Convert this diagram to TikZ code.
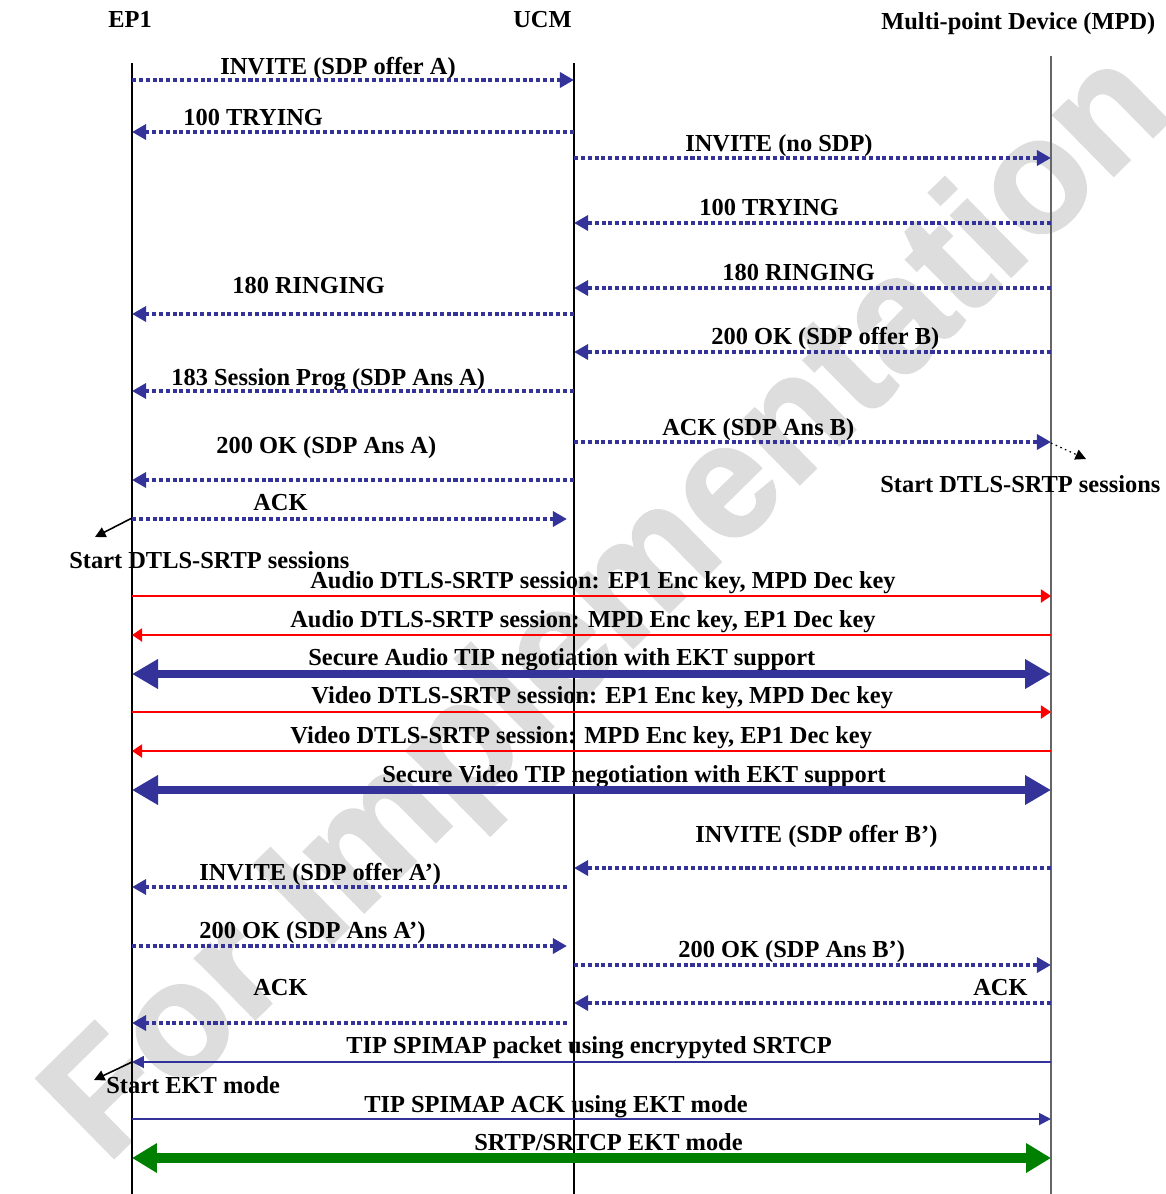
\documentclass[tikz,border=0pt]{standalone}
\usepackage{fontspec}
\setmainfont{Liberation Serif}
\newfontfamily\wmfont{Liberation Sans}[BoldFeatures={FakeBold=1.5}]
\usepackage{tikz}
\usetikzlibrary{arrows.meta,positioning,calc}
\definecolor{sipblue}{RGB}{51,51,153}
\definecolor{ektgreen}{RGB}{0,128,0}
\definecolor{wmgray}{RGB}{221,221,221}
\tikzstyle{life}=[draw=black, line width=0.6pt]
\tikzstyle{sipmsg}=[draw=sipblue, line width=2.4pt, dash pattern=on 2.3pt off 1.6pt, -{Triangle[length=8pt,width=8.5pt]}]
\tikzstyle{keymsg}=[draw=red, line width=1.1pt, -{Triangle[length=5.7pt,width=7.4pt]}]
\tikzstyle{spimsg}=[draw=sipblue, line width=1.1pt, -{Triangle[length=6.8pt,width=6.8pt]}]
\tikzstyle{tipmsg}=[draw=sipblue, line width=5.1pt, {Triangle[length=14.8pt,width=16pt]}-{Triangle[length=14.8pt,width=16pt]}]
\tikzstyle{ektmsg}=[draw=ektgreen, line width=5.7pt, {Triangle[length=14.2pt,width=16pt]}-{Triangle[length=14.2pt,width=16pt]}]
\tikzstyle{note}=[draw=black, line width=0.9pt, -{Triangle[length=6pt,width=6pt]}]

\begin{document}
\begin{tikzpicture}[
        x=0.02cm, y=-0.02cm,
        every node/.style={inner sep=0pt, anchor=base west, font=\fontsize{13.9}{16}\selectfont\bfseries},
        wm/.style={anchor=center, rotate=44.5, text=wmgray, font=\wmfont\fontsize{92}{92}\selectfont\bfseries}
    ]
    \useasboundingbox (0,0) rectangle (1166,1194);

    % Watermark
    \node[wm] (wmark) at (612,610) {For Implementation};

    % Lifelines
    \coordinate (ep1top) at (132,63);
    \coordinate (ep1bot) at (132,1194);
    \coordinate (ucmtop) at (574,63);
    \coordinate (ucmbot) at (574,1194);
    \coordinate (mpdtop) at (1051,56);
    \coordinate (mpdbot) at (1051,1194);
    \draw[life] (ep1top) -- (ep1bot);
    \draw[life] (ucmtop) -- (ucmbot);
    \draw[life, draw=black!60] (mpdtop) -- (mpdbot);

    % Define Nodes
    \node (ep1) at (108,27) {EP1};
    \node (ucm) at (513,27) {UCM};
    \node (mpd) at (881,29) {Multi-point Device (MPD)};

    \node (inviteA) at (220,74) {INVITE (SDP offer A)};
    \node (tryingL) at (183,125) {100 TRYING};
    \node (inviteM) at (685,151) {INVITE (no SDP)};
    \node (tryingR) at (699,215) {100 TRYING};
    \node (ringR) at (722,280) {180 RINGING};
    \node (ringL) at (232,293) {180 RINGING};
    \node (okB) at (711,344) {200 OK (SDP offer B)};
    \node (progA) at (171,385) {183 Session Prog (SDP Ans A)};
    \node (ackB) at (662,435) {ACK (SDP Ans B)};
    \node (okA) at (216,453) {200 OK (SDP Ans A)};
    \node (ackA) at (253,510) {ACK};
    \node (startR) at (880,492) {Start DTLS-SRTP sessions};
    \node (startL) at (69,568) {Start DTLS-SRTP sessions};

    \node (audio1) at (310,588) {Audio DTLS-SRTP session: EP1 Enc key, MPD Dec key};
    \node (audio2) at (290,627) {Audio DTLS-SRTP session: MPD Enc key, EP1 Dec key};
    \node (tipA) at (308,665) {Secure Audio TIP negotiation with EKT support};
    \node (video1) at (311,703) {Video DTLS-SRTP session: EP1 Enc key, MPD Dec key};
    \node (video2) at (290,743) {Video DTLS-SRTP session: MPD Enc key, EP1 Dec key};
    \node (tipV) at (382,782) {Secure Video TIP negotiation with EKT support};

    \node (inviteB2) at (695,842) {INVITE (SDP offer B’)};
    \node (inviteA2) at (199,880) {INVITE (SDP offer A’)};
    \node (okA2) at (199,938) {200 OK (SDP Ans A’)};
    \node (okB2) at (678,957) {200 OK (SDP Ans B’)};
    \node (ackR2) at (973,995) {ACK};
    \node (ackL2) at (253,995) {ACK};
    \node (spimap) at (346,1053) {TIP SPIMAP packet using encrypyted SRTCP};
    \node (startEKT) at (106,1093) {Start EKT mode};
    \node (spiack) at (364,1112) {TIP SPIMAP ACK using EKT mode};
    \node (ektmode) at (474,1150) {SRTP/SRTCP EKT mode};

    % Draw Arrows
    \draw[sipmsg] (ep1top |- 0,80) -- (ucmtop |- 0,80);
    \draw[sipmsg] (ucmtop |- 0,132) -- (ep1top |- 0,132);
    \draw[sipmsg] (ucmtop |- 0,158) -- (mpdtop |- 0,158);
    \draw[sipmsg] (mpdtop |- 0,223) -- (ucmtop |- 0,223);
    \draw[sipmsg] (mpdtop |- 0,288) -- (ucmtop |- 0,288);
    \draw[sipmsg] (ucmtop |- 0,314) -- (ep1top |- 0,314);
    \draw[sipmsg] (mpdtop |- 0,352) -- (ucmtop |- 0,352);
    \draw[sipmsg] (ucmtop |- 0,391) -- (ep1top |- 0,391);
    \draw[sipmsg] (ucmtop |- 0,442) -- (mpdtop |- 0,442);
    \draw[sipmsg] (ucmtop |- 0,480) -- (ep1top |- 0,480);
    \draw[sipmsg] (ep1top |- 0,519) -- ([xshift=-4]ucmtop |- 0,519);

    % Session start notes
    \coordinate (startLtip) at (95,537);
    \coordinate (startRtip) at (1086,459);
    \draw[note] (ep1top |- 0,518) -- (startLtip);
    \draw[note, dotted, line width=0.7pt] (mpdtop |- 0,443) -- (startRtip);

    % Media sessions
    \draw[keymsg] (ep1top |- 0,596) -- (mpdtop |- 0,596);
    \draw[keymsg] (mpdtop |- 0,635) -- (ep1top |- 0,635);
    \draw[tipmsg] (ep1top |- 0,674) -- (mpdtop |- 0,674);
    \draw[keymsg] (ep1top |- 0,712) -- (mpdtop |- 0,712);
    \draw[keymsg] (mpdtop |- 0,751) -- (ep1top |- 0,751);
    \draw[tipmsg] (ep1top |- 0,790) -- (mpdtop |- 0,790);

    % Re-INVITE
    \draw[sipmsg] (mpdtop |- 0,868) -- (ucmtop |- 0,868);
    \draw[sipmsg] ([xshift=-4]ucmtop |- 0,887) -- (ep1top |- 0,887);
    \draw[sipmsg] (ep1top |- 0,946) -- ([xshift=-4]ucmtop |- 0,946);
    \draw[sipmsg] (ucmtop |- 0,965) -- (mpdtop |- 0,965);
    \draw[sipmsg] (mpdtop |- 0,1003) -- (ucmtop |- 0,1003);
    \draw[sipmsg] ([xshift=-4]ucmtop |- 0,1023) -- (ep1top |- 0,1023);

    % EKT mode
    \draw[spimsg] (mpdtop |- 0,1062) -- (ep1top |- 0,1062);
    \coordinate (ektLtip) at (94,1080);
    \draw[note] (ep1top |- 0,1062) -- (ektLtip);
    \draw[spimsg] (ep1top |- 0,1119) -- (mpdtop |- 0,1119);
    \draw[ektmsg] (ep1top |- 0,1158) -- (mpdtop |- 0,1158);

\end{tikzpicture}
\end{document}
